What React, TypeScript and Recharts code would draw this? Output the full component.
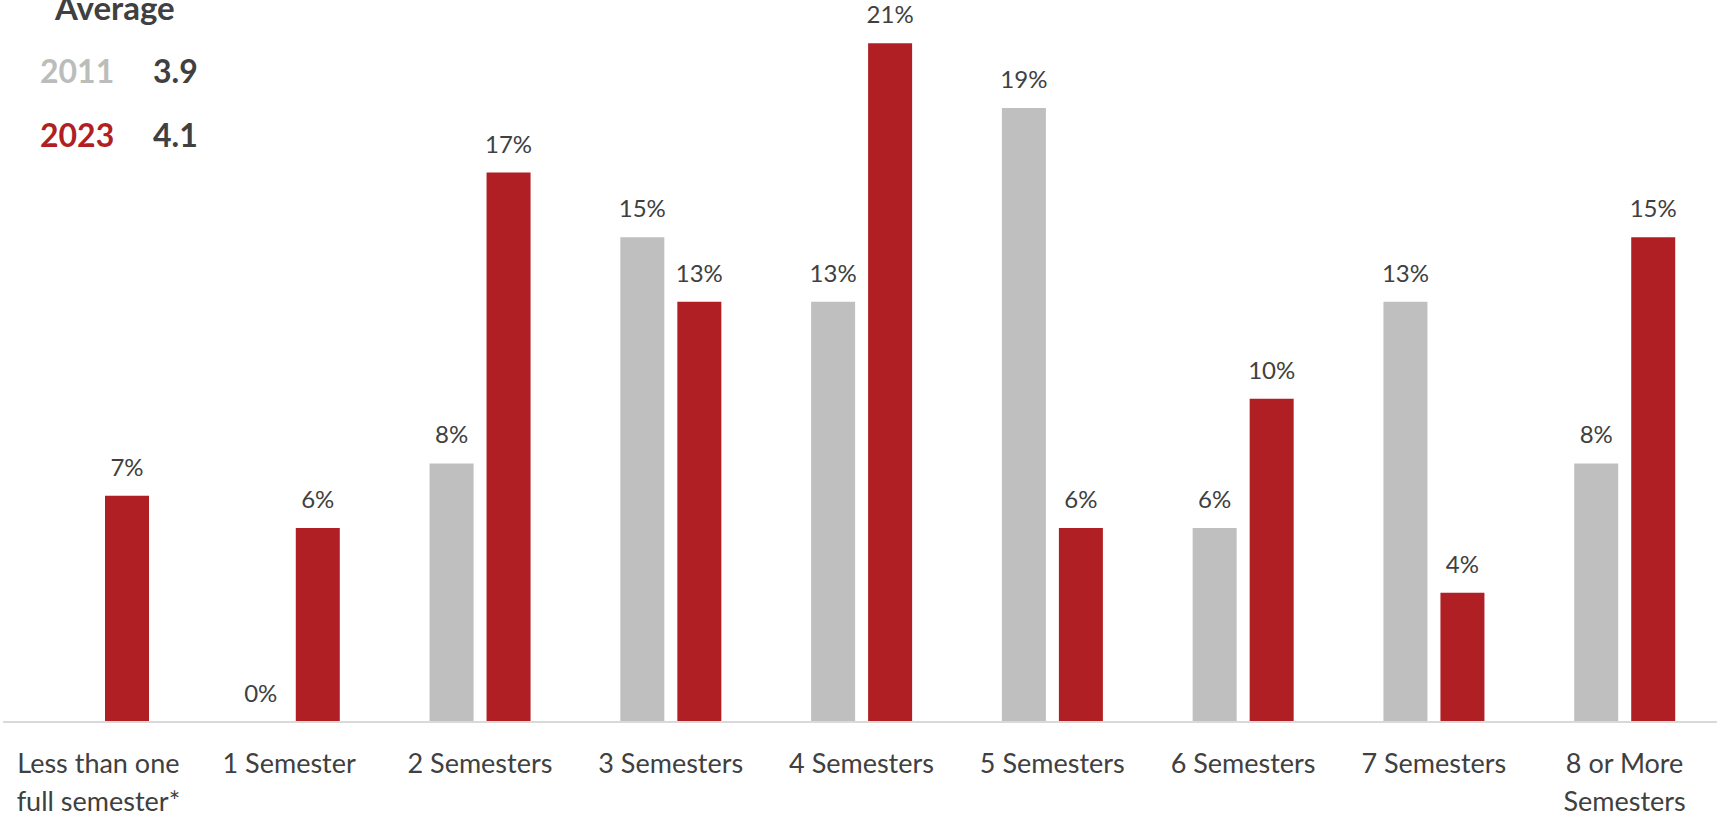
import { BarChart, Bar, XAxis, YAxis, LabelList } from 'recharts';

const CATEGORIES = [
  'Less than one\nfull semester*',
  '1 Semester',
  '2 Semesters',
  '3 Semesters',
  '4 Semesters',
  '5 Semesters',
  '6 Semesters',
  '7 Semesters',
  '8 or More\nSemesters',
];
const VALUES_2011 = [null, 0, 8, 15, 13, 19, 6, 13, 8];
const VALUES_2023 = [7, 6, 17, 13, 21, 6, 10, 4, 15];

const AVG_YEARS = ['2011', '2023'];
const AVG_VALUES = ['3.9', '4.1'];

const GREY = '#BFBFBF';
const RED = '#B01F24';
const TEXT = '#404040';
const FONT = 'Lato, "Open Sans", sans-serif';

const data = CATEGORIES.map((name, i) => ({
  name,
  y2011: VALUES_2011[i],
  y2023: VALUES_2023[i],
}));

const CategoryTick = ({ x, y, payload }: any) => {
  const lines = String(payload.value).split('\n');
  return (
    <text x={x} y={y} textAnchor="middle" fill={TEXT} fontSize={27} fontFamily={FONT}>
      {lines.map((l, i) => (
        <tspan key={i} x={x} dy={i === 0 ? 51 : 38}>
          {l}
        </tspan>
      ))}
    </text>
  );
};

const pct = (v: any) => (v === null || v === undefined ? '' : `${v}%`);

// zero-valued bars get a hairline so their label still shows
const zeroMin = (v: any) => (v === 0 ? 0.01 : 0);

export default function App() {
  return (
    <div style={{ position: 'absolute', left: 0, top: 0, width: 1717, height: 817, overflow: 'hidden', background: '#fff' }}>
      <BarChart width={1720} height={817} data={data} margin={{ top: 11, right: 0, left: 3, bottom: 0 }} barSize={44} barGap={13}>
        <XAxis
          dataKey="name"
          height={95}
          interval={0}
          tickLine={false}
          tickSize={0}
          tickMargin={0}
          axisLine={{ stroke: '#D9D9D9', strokeWidth: 2 }}
          tick={<CategoryTick />}
        />
        <YAxis hide domain={[0, 22]} />
        <Bar dataKey="y2011" fill={GREY} minPointSize={zeroMin} isAnimationActive={false}>
          <LabelList dataKey="y2011" position="top" offset={20} formatter={pct} fill={TEXT} fontSize={24} fontFamily={FONT} />
        </Bar>
        <Bar dataKey="y2023" fill={RED} isAnimationActive={false}>
          <LabelList dataKey="y2023" position="top" offset={20} formatter={pct} fill={TEXT} fontSize={24} fontFamily={FONT} />
        </Bar>
      </BarChart>
      <svg width={260} height={170} style={{ position: 'absolute', left: 0, top: 0 }}>
        <text x={55} y={20} fontSize={33} fontWeight={700} fill={TEXT} fontFamily={FONT}>
          Average
        </text>
        {AVG_YEARS.map((yr, i) => (
          <g key={yr}>
            <text x={40} y={83 + i * 64} fontSize={32} fontWeight={700} fill={i === 0 ? '#BBBDBA' : RED} fontFamily={FONT}>
              {yr}
            </text>
            <text x={153} y={83 + i * 64} fontSize={32} fontWeight={700} fill={TEXT} fontFamily={FONT}>
              {AVG_VALUES[i]}
            </text>
          </g>
        ))}
      </svg>
    </div>
  );
}
